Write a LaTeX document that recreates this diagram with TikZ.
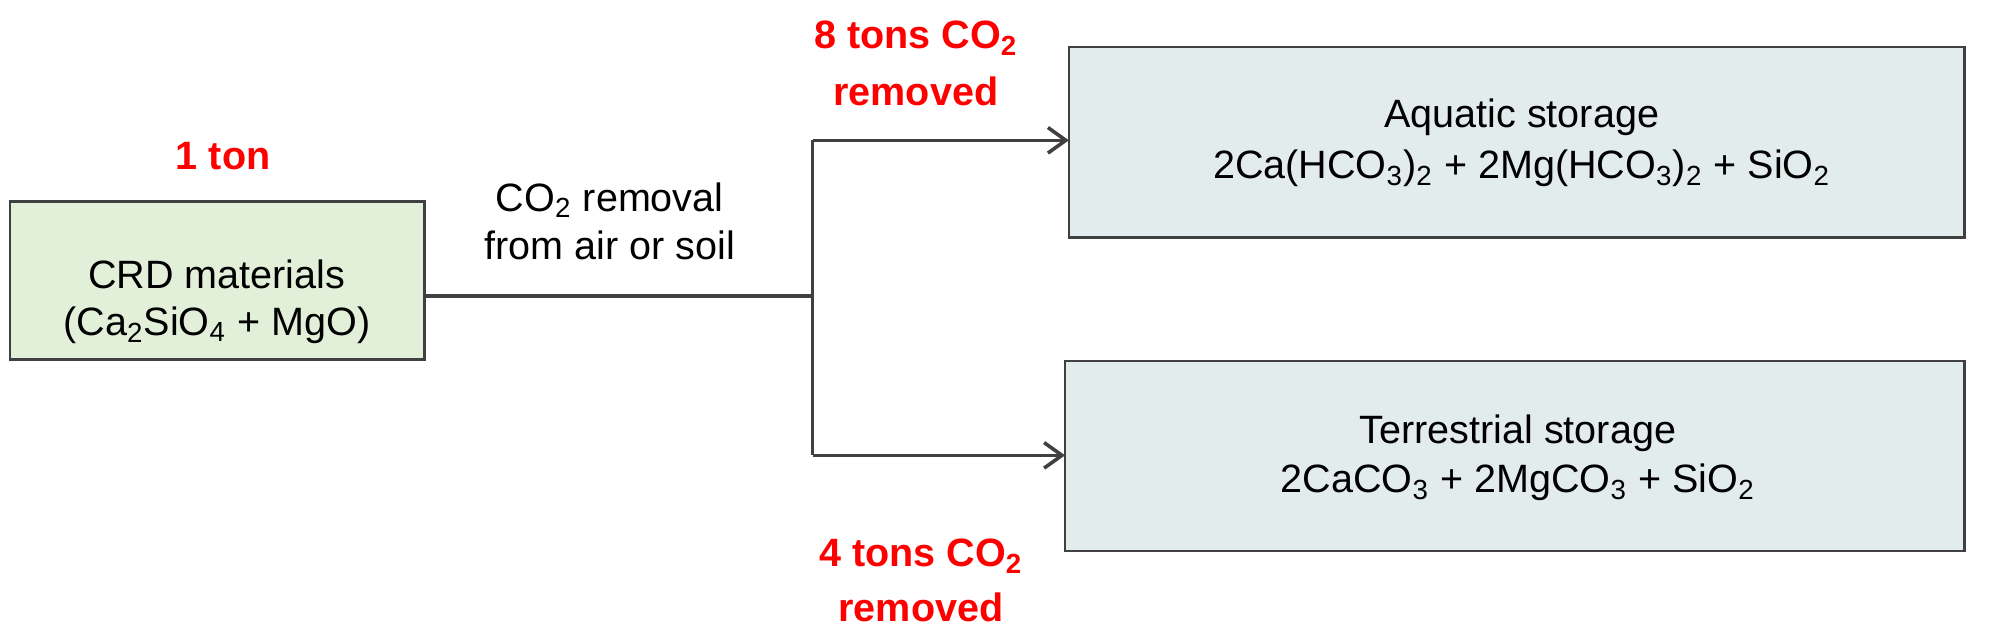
\documentclass[tikz,border=0pt]{standalone}
\usepackage{fontspec}
\setmainfont{Liberation Sans}
\usetikzlibrary{arrows.meta}
\definecolor{gfill}{HTML}{E2F0D9}
\definecolor{bfill}{HTML}{E3ECEC}
\definecolor{edge}{HTML}{404040}
\definecolor{lred}{HTML}{FF0000}
\begin{document}
\begin{tikzpicture}[x=0.5pt,y=-0.5pt,
  box/.style={draw=edge,line width=1pt,inner sep=0},
  lbl/.style={font=\fontsize{15.5}{17}\selectfont,align=center,text=black},
  red/.style={font=\fontsize{15.5}{17}\selectfont\bfseries,align=center,text=lred},
  conn/.style={draw=edge,line width=1.4pt},
  arr/.style={conn,-{Straight Barb[length=7pt,width=10pt]}}]
\useasboundingbox (0,0) rectangle (1568,496);
\filldraw[box,fill=gfill] (8,158) rectangle (333,282);
\filldraw[box,fill=bfill] (838,37) rectangle (1540,186);
\filldraw[box,fill=bfill] (835,283) rectangle (1540,432);
\coordinate (a) at (333,232);
\coordinate (j) at (637,232);
\coordinate (t) at (637,110);
\coordinate (b) at (637,357);
\coordinate (ta) at (838,110);
\coordinate (ba) at (835,357);
\draw[conn] (a) -- (j);
\draw[conn] (t) -- (b);
\draw[arr] (t) -- (ta);
\draw[arr] (b) -- (ba);
\node[lbl] (l1) at (170,215) {CRD materials};
\node[lbl] (l2) at (170,255) {(Ca\textsubscript{2}SiO\textsubscript{4} + MgO)};
\node[lbl] (t1) at (1193,92) {Aquatic storage};
\node[lbl] (t2) at (1193,132) {2Ca(HCO\textsubscript{3})\textsubscript{2} + 2Mg(HCO\textsubscript{3})\textsubscript{2} + SiO\textsubscript{2}};
\node[lbl] (b1) at (1190,340) {Terrestrial storage};
\node[lbl] (b2) at (1190,378) {2CaCO\textsubscript{3} + 2MgCO\textsubscript{3} + SiO\textsubscript{2}};
\node[lbl] (c1) at (478,157) {CO\textsubscript{2} removal};
\node[lbl] (c2) at (478,192) {from air or soil};
\node[red] (r0) at (175,122) {1 ton};
\node[red] (r1) at (718,30) {8 tons CO\textsubscript{2}};
\node[red] (r2) at (718,72) {removed};
\node[red] (r3) at (722,436) {4 tons CO\textsubscript{2}};
\node[red] (r4) at (722,476) {removed};
\end{tikzpicture}
\end{document}
